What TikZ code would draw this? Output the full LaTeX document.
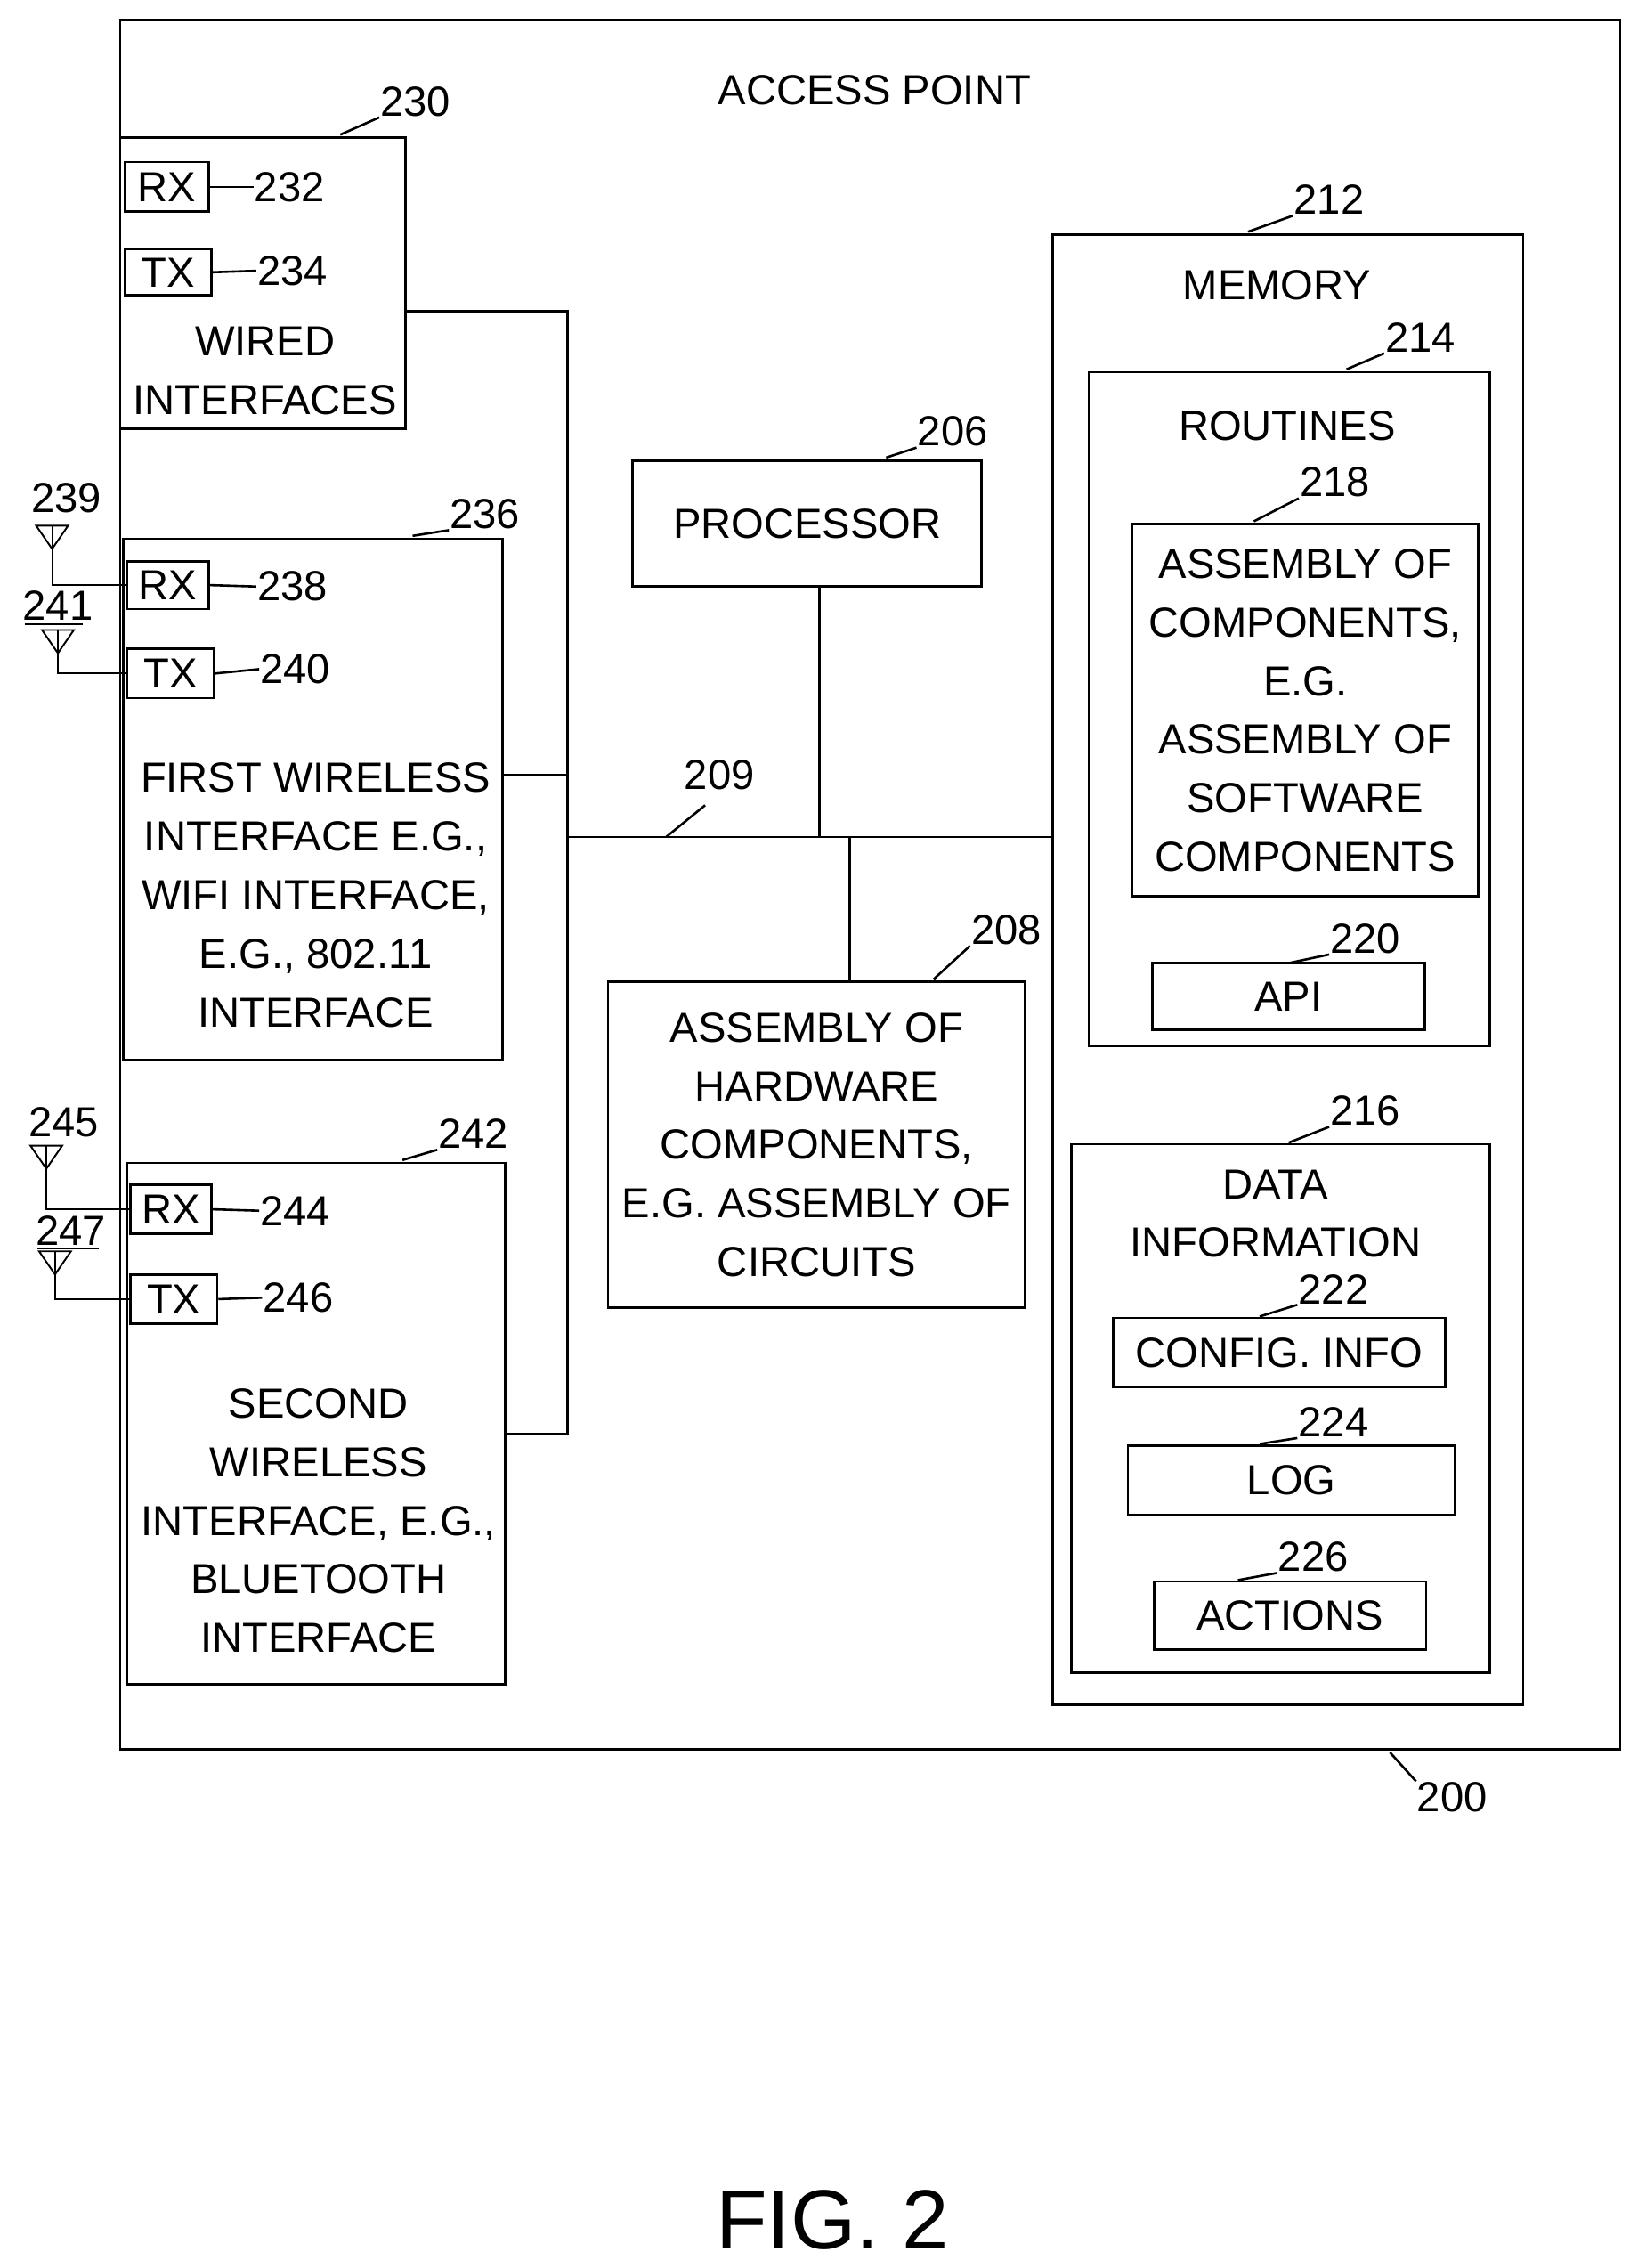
\documentclass[tikz,border=0pt]{standalone}
\usepackage{fontspec}
\setmainfont{Liberation Sans}
\begin{document}
\begin{tikzpicture}[x=1pt,y=-1pt,line width=1.6pt,
  txt/.style={font=\fontsize{29}{40.5}\selectfont,align=center,inner sep=0},
  lab/.style={font=\fontsize{29}{34}\selectfont,inner sep=0,anchor=west},
  box/.style={draw,line width=1.6pt}]
\useasboundingbox (0,0) rectangle (1131,1566);
% outer
\draw[box] (83,14) rectangle (1119,1208);
\node[txt] (ap) at (604,62) {ACCESS POINT};
\node[lab] (l200) at (978,1241) {200}; \draw (960,1210) -- (l200.north west);
% wired
\draw[box] (83,95) rectangle (280,296);
\node[lab] (l230) at (262,70) {230}; \draw (235,93) -- (l230.south west);
\node[box,txt,minimum width=58,minimum height=34,inner sep=0] (rx1) at (115,129) {RX};
\node[box,txt,minimum width=60,minimum height=32] (tx1) at (116,188) {TX};
\node[lab] (l232) at (175,129) {232}; \draw (rx1.east) -- (l232.west);
\node[lab] (l234) at (177,187) {234}; \draw (tx1.east) -- (l234.west);
\node[txt] (wi) at (183,256) {WIRED\\INTERFACES};
% first wireless
\draw[box] (85,372) rectangle (347,732);
\node[lab] (l236) at (310,355) {236}; \draw (285,370) -- (l236.south west);
\node[box,txt,minimum width=56,minimum height=33] (rx2) at (116,404) {RX};
\node[box,txt,minimum width=60,minimum height=34] (tx2) at (118,465) {TX};
\node[lab] (l238) at (177,405) {238}; \draw (rx2.east) -- (l238.west);
\node[lab] (l240) at (179,462) {240}; \draw (tx2.east) -- (l240.west);
\node[txt] (fw) at (218,618) {FIRST WIRELESS\\INTERFACE E.G.,\\WIFI INTERFACE,\\E.G., 802.11\\INTERFACE};
% second wireless
\draw[box] (88,803) rectangle (349,1163);
\node[lab] (l242) at (302,783) {242}; \draw (278,801) -- (l242.south west);
\node[box,txt,minimum width=56,minimum height=34] (rx3) at (118,835) {RX};
\node[box,txt,minimum width=60,minimum height=34] (tx3) at (120,897) {TX};
\node[lab] (l244) at (179,836) {244}; \draw (rx3.east) -- (l244.west);
\node[lab] (l246) at (181,896) {246}; \draw (tx3.east) -- (l246.west);
\node[txt] (sw) at (220,1050) {SECOND\\WIRELESS\\INTERFACE, E.G.,\\BLUETOOTH\\INTERFACE};
% antennas
\foreach \n/\x/\y/\ty/\tgt/\lx/\ly in {a239/36/372/404/rx2/21/344, a241/40/444/465/tx2/15/418, a245/32/800/835/rx3/19/775, a247/38/873/897/tx3/24/850}{
  \coordinate (\n) at (\x,\y);
  \draw[line width=1.2pt] (\x-11,\y-9) -- (\x+11,\y-9) -- (\x,\y+7) -- cycle;
  \draw[line width=1.2pt] (\x,\y-9) -- (\x,\ty) -- (\tgt.west |- 0,\ty);
}
\node[lab] (l239) at (21,344) {239};
\node[lab] (l241) at (15,418) {241}; \draw[line width=1.2pt] (17,431) -- (57,431);
\node[lab] (l245) at (19,775) {245};
\node[lab] (l247) at (24,850) {247}; \draw[line width=1.2pt] (26,862) -- (68,862);
% processor
\node[box,txt,minimum width=241,minimum height=87] (proc) at (557.5,361.5) {PROCESSOR};
\node[lab] (l206) at (633,298) {206}; \draw (612,316) -- (l206.south west);
% hw assembly
\node[box,txt,minimum width=288,minimum height=225] (hw) at (564,790.5) {ASSEMBLY OF\\HARDWARE\\COMPONENTS,\\E.G. ASSEMBLY OF\\CIRCUITS};
\node[lab] (l208) at (670,642) {208}; \draw (645,676) -- (l208.south west);
% bus
\coordinate (b1) at (392,215);
\coordinate (b2) at (392,990);
\draw (280,215) -- (b1) -- (b2) -- (349,990);
\draw (347,535) -- (392,535);
\draw (392,578) -- (727,578);
\draw (proc.south -| 566,0) -- (566,578);
\draw (587,578) -- (hw.north -| 587,0);
\node[lab] (l209) at (472,535) {209}; \draw (460,578) -- (487,556);
% memory
\draw[box] (727,162) rectangle (1052,1177);
\node[lab] (l212) at (893,138) {212}; \draw (862,160) -- (l212.south west);
\node[txt] (mem) at (882,197) {MEMORY};
\draw[box] (752,257) rectangle (1029,722);
\node[lab] (l214) at (956,233) {214}; \draw (930,255) -- (l214.south west);
\node[txt] (rt) at (889,294) {ROUTINES};
\node[box,txt,minimum width=239,minimum height=257] (asm) at (901.5,490.5) {ASSEMBLY OF\\COMPONENTS,\\E.G.\\ASSEMBLY OF\\SOFTWARE\\COMPONENTS};
\node[lab] (l218) at (897,333) {218}; \draw (866,360) -- (l218.south west);
\node[box,txt,minimum width=188,minimum height=46] (api) at (890,688) {API};
\node[lab] (l220) at (918,648) {220}; \draw (890,665) -- (l220.south west);
\draw[box] (740,790) rectangle (1029,1155);
\node[lab] (l216) at (918,767) {216}; \draw (890,789) -- (l216.south west);
\node[txt] (di) at (881,838) {DATA\\INFORMATION};
\node[box,txt,minimum width=229,minimum height=48] (cfg) at (883.5,934) {CONFIG. INFO};
\node[lab] (l222) at (896,890) {222}; \draw (870,909) -- (l222.south west);
\node[box,txt,minimum width=226,minimum height=48] (log) at (892,1022) {LOG};
\node[lab] (l224) at (896,982) {224}; \draw (870,997) -- (l224.south west);
\node[box,txt,minimum width=188,minimum height=47] (act) at (891,1115.5) {ACTIONS};
\node[lab] (l226) at (882,1075) {226}; \draw (855,1091) -- (l226.south west);
\node[font=\fontsize{58}{60}\selectfont] (fig) at (575,1533) {FIG. 2};
\end{tikzpicture}
\end{document}
